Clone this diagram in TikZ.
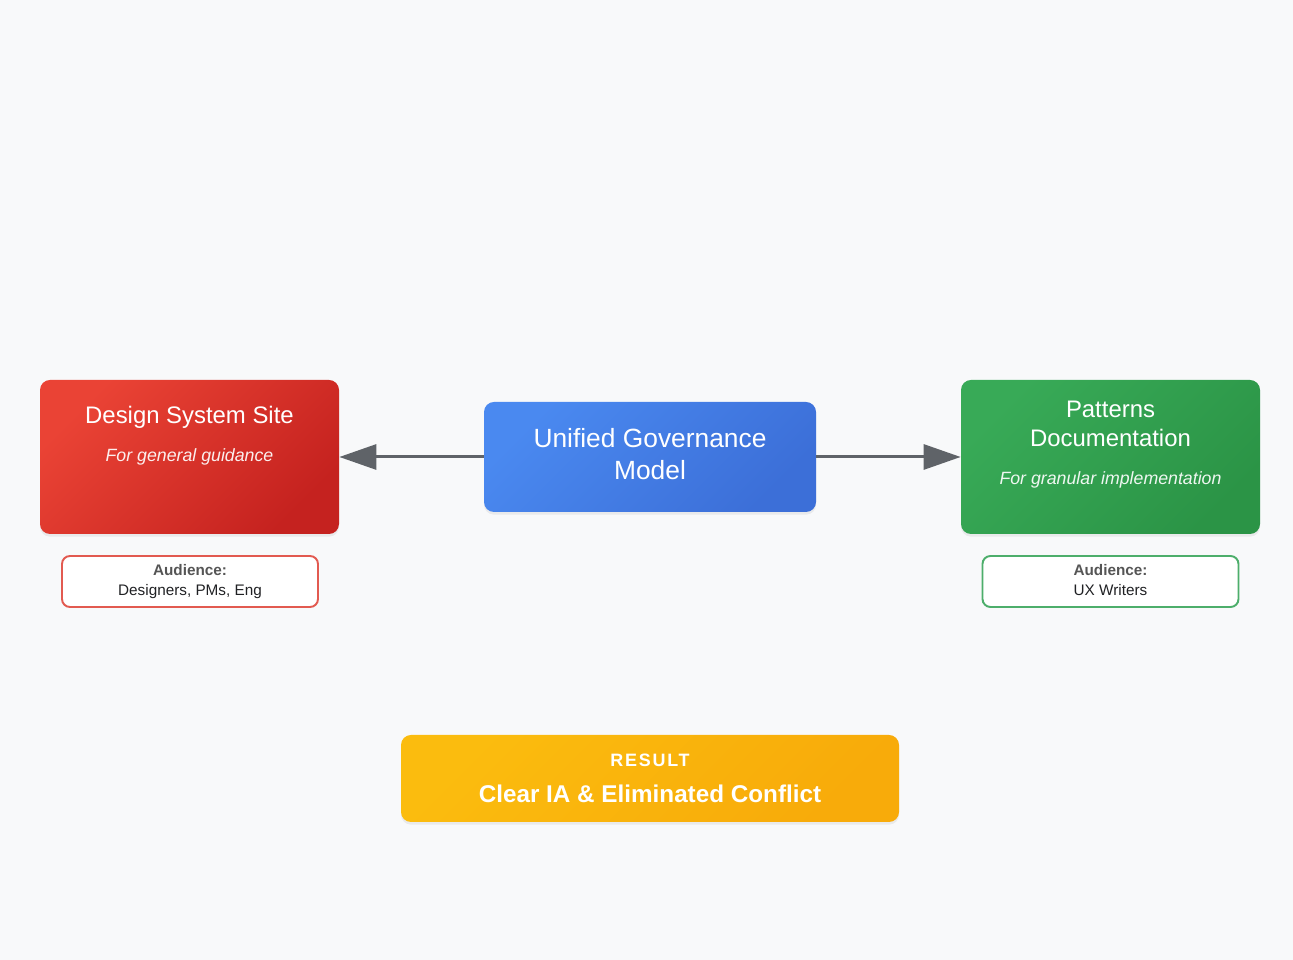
\documentclass[tikz,border=0pt]{standalone}
\usepackage{fontspec}
\setmainfont{Liberation Sans}
\usepackage{tikz}
\usetikzlibrary{arrows.meta,shadows}
\definecolor{pagebg}{HTML}{F8F9FA}
\definecolor{redA}{HTML}{EA4335}
\definecolor{redB}{HTML}{C5221F}
\definecolor{blueA}{HTML}{4A89F0}
\definecolor{blueB}{HTML}{3C6FD8}
\definecolor{greenA}{HTML}{38AA57}
\definecolor{greenB}{HTML}{2B9446}
\definecolor{yellowA}{HTML}{FBBC0E}
\definecolor{yellowB}{HTML}{F8AB0A}
\definecolor{arrowgray}{HTML}{5F6368}
\definecolor{redline}{HTML}{E25A50}
\definecolor{greenline}{HTML}{4DAE6B}
\definecolor{audgray}{HTML}{555555}
\definecolor{audtext}{HTML}{202124}
\tikzset{box/.style={rounded corners=0.2cm, inner sep=0pt, drop shadow={opacity=0.12, shadow xshift=0pt, shadow yshift=-1.5pt}},
  headline/.style={text=white, font=\fontsize{13.6}{16.4}\selectfont, align=center, inner sep=0pt},
  subline/.style={text=white, opacity=0.92, font=\fontsize{10.1}{12}\selectfont\itshape, inner sep=0pt},
  audbox/.style={rounded corners=0.16cm, fill=white, line width=1.1pt, minimum width=5.12cm, minimum height=1.02cm, align=center, inner sep=0pt, font=\fontsize{8.7}{11.3}\selectfont, text=audtext},
  conn/.style={draw=arrowgray, line width=1.7pt, -{Triangle[length=0.74cm, width=0.5cm]}}}

\begin{document}
\begin{tikzpicture}
      \fill [pagebg] (0,0) rectangle (25.86,19.2);
      \node [box, top color=redA, bottom color=redB, shading angle=45, minimum width=5.98cm, minimum height=3.08cm] (dss) at (3.79,10.06) {};
      \node [box, top color=blueA, bottom color=blueB, shading angle=45, minimum width=6.64cm, minimum height=2.2cm] (ugm) at (13.0,10.06) {};
      \node [box, top color=greenA, bottom color=greenB, shading angle=45, minimum width=5.98cm, minimum height=3.08cm] (pat) at (22.21,10.06) {};
      \node [headline] (dsstitle) at (3.79,10.86) {Design System Site};
      \node [subline] (dssnote) at (3.79,10.06) {For general guidance};
      \node [headline, font=\fontsize{15}{18.1}\selectfont] (ugmtitle) at (13.0,10.12) {Unified Governance\\Model};
      \node [headline] (pattitle) at (22.21,10.73) {Patterns\\Documentation};
      \node [subline] (patnote) at (22.21,9.6) {For granular implementation};
      \node [audbox, draw=redline] (dssaud) at (3.8,7.57) {{\color{audgray}\bfseries Audience:}\\Designers, PMs, Eng};
      \node [audbox, draw=greenline] (pataud) at (22.21,7.57) {{\color{audgray}\bfseries Audience:}\\UX Writers\vphantom{g}};
      \node [box, left color=yellowA, right color=yellowB, shading angle=45, minimum width=9.96cm, minimum height=1.74cm, align=center, text=white] (res) at (13.0,3.63) {{\fontsize{10.2}{12}\selectfont\bfseries\addfontfeature{LetterSpace=10}RESULT}\\[0.3cm]{\fontsize{13.8}{16}\selectfont\bfseries Clear IA \& Eliminated Conflict}};
      \draw [conn] (ugm) -- (dss);
      \draw [conn] (ugm) -- (pat);
\end{tikzpicture}
\end{document}
